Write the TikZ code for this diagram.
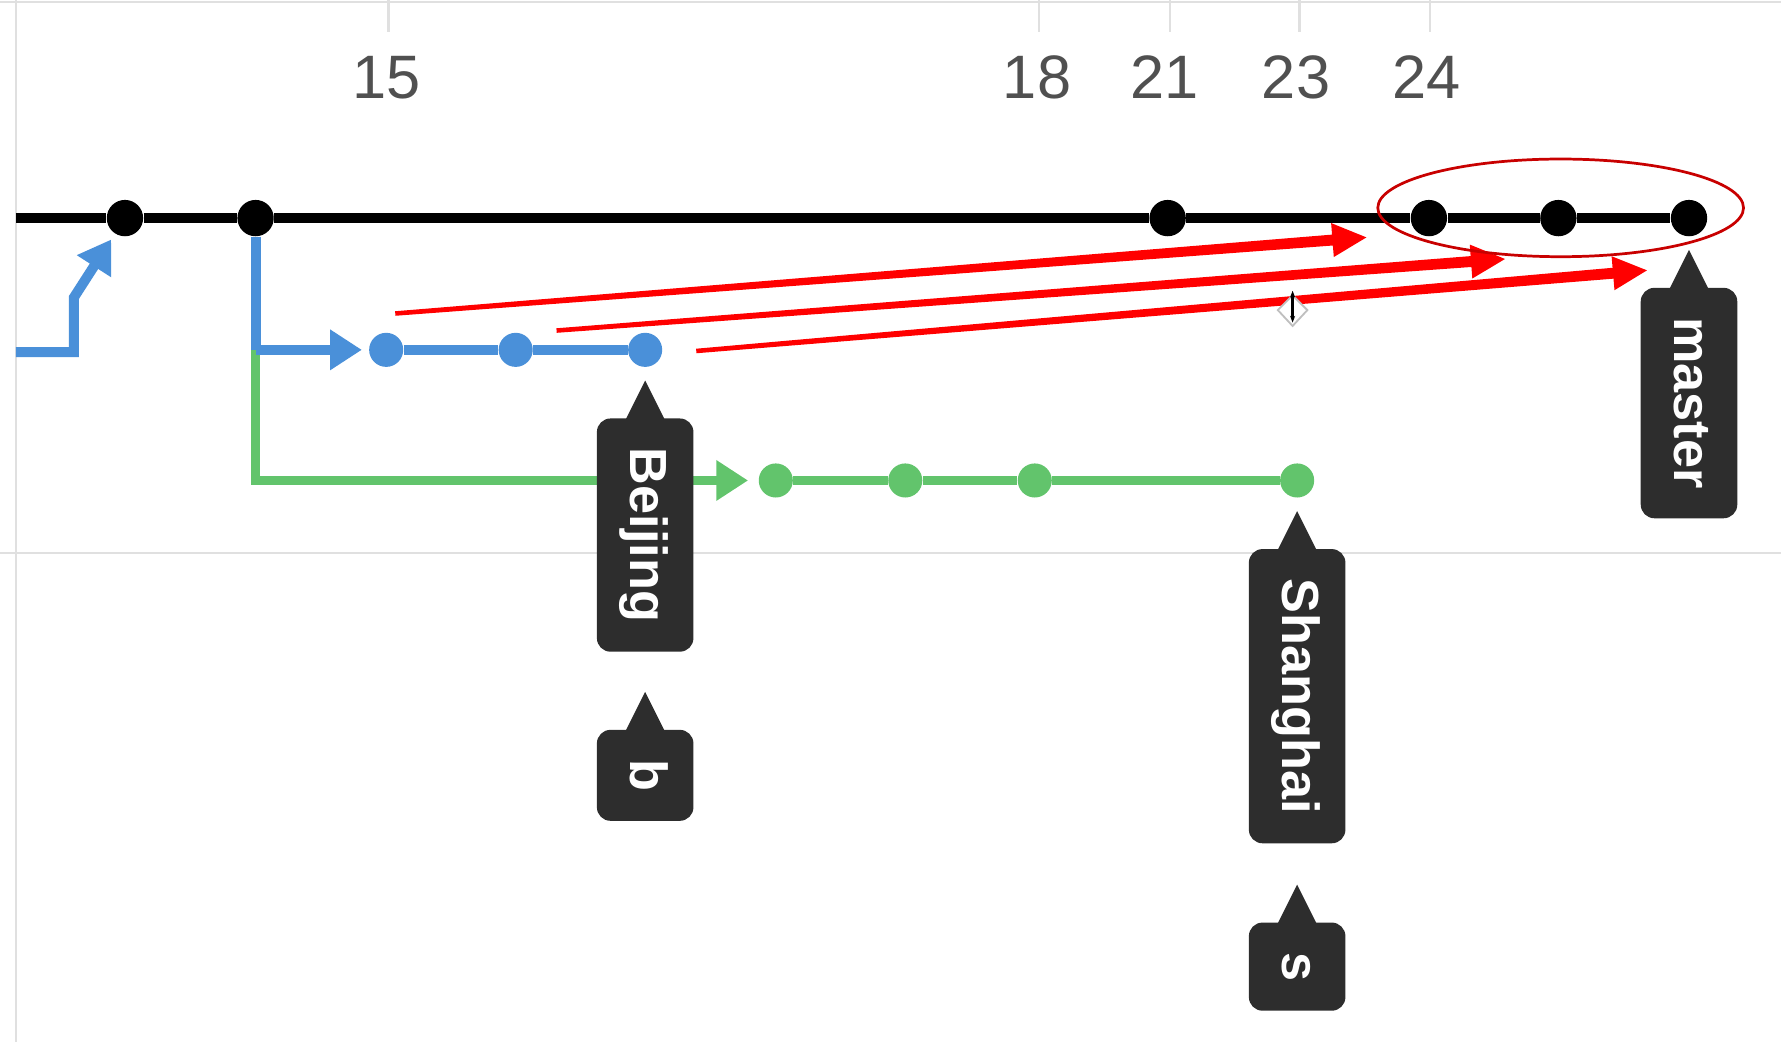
\documentclass[tikz,border=0pt]{standalone}
\usepackage{fontspec}
\setmainfont{Liberation Sans}
\usetikzlibrary{arrows.meta, calc}

\definecolor{gitblue}{RGB}{74,144,217}
\definecolor{gitgreen}{RGB}{98,196,108}
\definecolor{tagdark}{RGB}{45,45,45}
\definecolor{gridgray}{RGB}{224,224,224}
\definecolor{numgray}{RGB}{80,80,80}
\definecolor{ringred}{RGB}{200,0,0}

\tikzset{
  commit/.style={circle, fill=black, inner sep=0pt, minimum size=16pt},
  bluecommit/.style={commit, fill=gitblue, minimum size=15pt},
  greencommit/.style={commit, fill=gitgreen, minimum size=15pt},
  mainline/.style={line width=4.6pt},
  blueline/.style={line width=4.4pt, gitblue},
  greenline/.style={line width=4pt, gitgreen},
  headtip/.style={-{Triangle[length=14pt, width=17pt]}},
  gridline/.style={gridgray, line width=1pt},
  ticklabel/.style={text=numgray, font=\fontsize{27}{30}\selectfont},
  tag/.style={rectangle, rounded corners=6pt, fill=tagdark, text=white,
    rotate=-90, anchor=west, minimum height=42.5pt, inner xsep=13pt, inner ysep=0pt,
    text height=16.5pt, text depth=4pt, font=\fontsize{23}{25}\selectfont\bfseries},
  redarrow/.style={fill=red},
  ring/.style={draw=ringred, line width=1.2pt},
}

% 标签: 名字, 尖端, 文字
\newcommand\gittag[3]{%
  \coordinate (#1tip) at #2;
  \fill[tagdark] (#1tip) -- ++(-17,34) -- ++(34,0) -- cycle;
  \node[tag] (#1) at ($(#1tip)+(0,33)$) {#3};
}

\begin{document}
\begin{tikzpicture}[x=0.5pt, y=-0.5pt]
\useasboundingbox (0,0) rectangle (1568,917);
% 网格
\draw[gridline] (0,2) -- (1568,2);
\draw[gridline] (14,0) -- (14,917);
\draw[gridline] (0,487) -- (1568,487);
\foreach \x/\n/\tx in {340/15/342, 913/18/915, 1025/21/1030, 1141/23/1144, 1256/24/1259}{
  \draw[gridline] (\tx,0) -- (\tx,28);
  \node[ticklabel] (t\n) at (\x,68) {\n};
}
% 提交
\foreach \n/\x in {1/110, 2/225, 3/1028, 4/1258, 5/1372, 6/1487}
  \node[commit] (m\n) at (\x,192) {};
\foreach \n/\x in {1/340, 2/454, 3/568}
  \node[bluecommit] (b\n) at (\x,308) {};
\foreach \n/\x in {1/683, 2/797, 3/911, 4/1142}
  \node[greencommit] (g\n) at (\x,423) {};
\coordinate (mstart) at (14,192);
\coordinate (fork) at (225,308);
\coordinate (lstart) at (14,310);
\coordinate (lbend1) at (65,310);
\coordinate (lbend2) at (65,262);
% 主线
\draw[mainline] (mstart) -- (m1) -- (m2) -- (m3) -- (m4) -- (m5) -- (m6);
% 分支
\draw[blueline, headtip, shorten >=3pt] (lstart) -- (lbend1) -- (lbend2) -- (m1);
\draw[blueline] (m2) -- (fork);
\draw[greenline, headtip, shorten >=4.5pt] (fork) |- (g1);
\draw[blueline, headtip, shorten >=3pt] (fork) -- (b1);
\draw[blueline] (b1) -- (b2) -- (b3);
\draw[greenline] (g1) -- (g2) -- (g3) -- (g4);
% 标签
\gittag{beijing}{($(b3)+(0,27)$)}{Beijing}
\gittag{bb}{($(beijing.east)+(0,35)$)}{b}
\gittag{shanghai}{($(g4)+(0,27)$)}{Shanghai}
\gittag{ss}{($(shanghai.east)+(0,36)$)}{s}
\gittag{master}{($(m6)+(0,28)$)}{master}
% 红箭头
\coordinate (s1) at (348,276);  \coordinate (e1) at (1203,209);
\coordinate (s2) at (490,291);  \coordinate (e2) at (1325,228);
\coordinate (s3) at (613,309);  \coordinate (e3) at (1450,238);
\foreach \i in {1,2,3}{
  \coordinate (h\i) at ($(e\i)!15pt!(s\i)$);
  \fill[redarrow] ($(s\i)!1pt!90:(e\i)$) -- ($(h\i)!2.4pt!90:(e\i)$)
    -- ($(h\i)!7.5pt!90:(e\i)$) -- (e\i) -- ($(h\i)!7.5pt!-90:(e\i)$)
    -- ($(h\i)!2.4pt!-90:(e\i)$) -- ($(s\i)!1pt!-90:(e\i)$) -- cycle;
}
\draw[ring] (1374,183) ellipse [x radius=80.5pt, y radius=21.5pt];
% 光标
\draw[gray!50, fill=white, line width=0.8pt] (1125,273) -- (1138,260) -- (1151,273) -- (1138,287) -- cycle;
\draw[line width=1.2pt, {Stealth[length=3pt]}-{Stealth[length=3pt]}] (1138,256) -- (1138,284);
\end{tikzpicture}
\end{document}
